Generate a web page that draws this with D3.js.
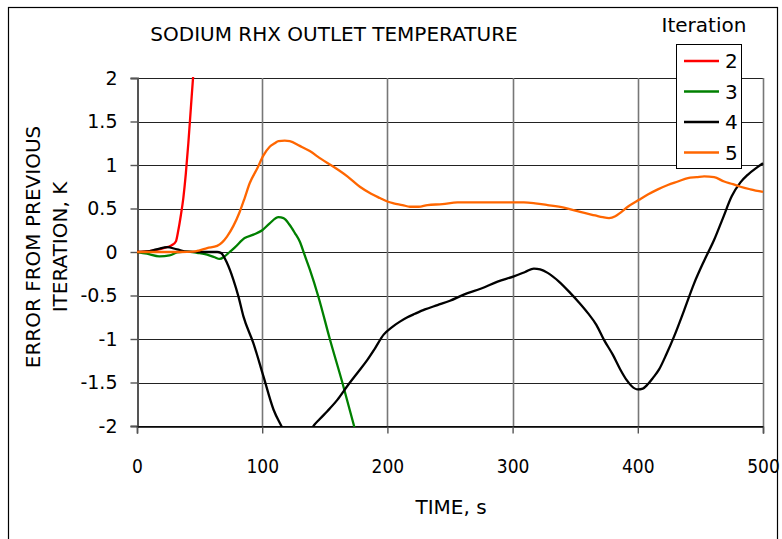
<!DOCTYPE html>
<html>
<head>
<meta charset="utf-8">
<script src="https://cdn.jsdelivr.net/npm/d3@7"></script>
<style>
  html, body { margin: 0; padding: 0; background: #fff; }
  svg { display: block; }
  text { font-family: "DejaVu Sans", Verdana, sans-serif; fill: #000; }
</style>
</head>
<body>
<svg id="chart" width="782" height="539"></svg>
<script>
// Error from previous iteration (K) vs time (s), per iteration
const time2 = [0, 10, 20, 25, 28, 31, 33, 35, 37, 39, 41, 43, 45, 47];
const err2  = [0, 0.01, 0.04, 0.06, 0.08, 0.12, 0.25, 0.42, 0.62, 0.9, 1.25, 1.65, 2.05, 2.4];

const time3 = [0, 8, 18, 26, 32, 40, 48, 56, 62, 66, 70, 74, 78, 86, 93, 100, 106, 113, 117, 122, 126, 130, 134, 138, 145, 154, 164, 173, 177];
const err3  = [0, -0.02, -0.05, -0.04, -0.005, 0.005, -0.01, -0.03, -0.06, -0.08, -0.05, 0.0, 0.05, 0.16, 0.2, 0.25, 0.33, 0.4, 0.39, 0.31, 0.22, 0.12, -0.04, -0.2, -0.52, -1.0, -1.5, -1.98, -2.2];

const time4 = [0, 10, 18, 24, 32, 40, 53, 64, 67, 72, 77, 81, 85, 93, 101, 109, 116, 122, 128, 134, 140, 146, 152, 160, 168, 176, 184, 190, 197, 204, 210, 216, 222, 230, 240, 250, 261, 275, 288, 301, 310, 317, 322, 328, 337, 346, 353, 360, 367, 373, 380, 386, 391, 395, 400, 404, 408, 412, 417, 423, 429, 437, 445, 453, 461, 468, 475, 482, 488, 495, 500];
const err4  = [0, 0.01, 0.04, 0.055, 0.03, 0.005, 0, 0, -0.01, -0.13, -0.32, -0.51, -0.74, -1.05, -1.43, -1.81, -2.02, -2.2, -2.28, -2.22, -2.02, -1.92, -1.83, -1.7, -1.54, -1.39, -1.24, -1.11, -0.95, -0.86, -0.8, -0.75, -0.71, -0.66, -0.61, -0.56, -0.49, -0.42, -0.34, -0.28, -0.23, -0.19, -0.2, -0.24, -0.34, -0.47, -0.58, -0.7, -0.84, -1.01, -1.18, -1.35, -1.47, -1.54, -1.58, -1.57, -1.52, -1.45, -1.35, -1.17, -0.97, -0.67, -0.36, -0.1, 0.14, 0.39, 0.64, 0.8, 0.89, 0.97, 1.02];

const time5 = [0, 20, 35, 45, 50, 56, 64, 68, 72, 77, 82, 86, 90, 96, 101, 106, 110, 113, 118, 122, 130, 138, 147, 157, 168, 178, 187, 194, 200, 205, 212, 218, 225, 232, 244, 256, 274, 292, 309, 318, 328, 341, 354, 366, 372, 377, 382, 386, 392, 401, 408, 416, 424, 432, 440, 447, 453, 461, 469, 476, 482, 490, 500];
const err5  = [0, 0, 0, 0.005, 0.02, 0.045, 0.07, 0.11, 0.18, 0.3, 0.46, 0.62, 0.79, 0.96, 1.11, 1.21, 1.25, 1.275, 1.28, 1.275, 1.22, 1.16, 1.07, 0.98, 0.87, 0.75, 0.67, 0.62, 0.58, 0.56, 0.54, 0.52, 0.52, 0.54, 0.55, 0.57, 0.57, 0.57, 0.57, 0.56, 0.54, 0.51, 0.46, 0.42, 0.4, 0.39, 0.41, 0.45, 0.52, 0.6, 0.66, 0.72, 0.77, 0.81, 0.85, 0.86, 0.87, 0.86, 0.81, 0.78, 0.75, 0.72, 0.69];

const iterations = ["2", "3", "4", "5"];
const colors = ["#ff0000", "#008000", "#000000", "#ff6600"];
const xTicks = [0, 100, 200, 300, 400, 500];
const yTicks = [2, 1.5, 1, 0.5, 0, -0.5, -1, -1.5, -2];

const seriesList = [
  { name: iterations[0], color: colors[0], t: time2, v: err2 },
  { name: iterations[1], color: colors[1], t: time3, v: err3 },
  { name: iterations[2], color: colors[2], t: time4, v: err4 },
  { name: iterations[3], color: colors[3], t: time5, v: err5 }
];

const svg = d3.select("#chart");
const plot = { left: 137, right: 763, top: 78, bottom: 426 };

const x = d3.scaleLinear().domain([0, 500]).range([plot.left, plot.right]);
const y = d3.scaleLinear().domain([-2, 2]).range([plot.bottom, plot.top]);

// outer frame
svg.append("rect")
  .attr("x", 8.5).attr("y", 7.5)
  .attr("width", 769).attr("height", 540)
  .attr("fill", "none").attr("stroke", "#000").attr("stroke-width", 1.2);

// title
svg.append("text")
  .attr("x", 334).attr("y", 41)
  .attr("text-anchor", "middle")
  .style("font-size", "20px")
  .text("SODIUM RHX OUTLET TEMPERATURE");

// grid: horizontal
svg.append("g")
  .selectAll("line")
  .data(yTicks)
  .join("line")
  .attr("x1", plot.left).attr("x2", plot.right)
  .attr("y1", d => Math.round(y(d)) + 0.5).attr("y2", d => Math.round(y(d)) + 0.5)
  .attr("stroke", "#222").attr("stroke-width", 1.2);

// grid: vertical
svg.append("g")
  .selectAll("line")
  .data(xTicks.slice(1))
  .join("line")
  .attr("x1", d => Math.round(x(d)) + 0.5).attr("x2", d => Math.round(x(d)) + 0.5)
  .attr("y1", plot.top).attr("y2", plot.bottom)
  .attr("stroke", "#777").attr("stroke-width", 1.6);

// y axis
const yAxis = svg.append("g")
  .attr("transform", `translate(${plot.left + 0.5},0)`)
  .call(d3.axisLeft(y).tickValues(yTicks).tickSize(7).tickPadding(13).tickFormat(d3.format("")));
yAxis.select(".domain").attr("stroke", "#555").attr("stroke-width", 2);
yAxis.selectAll(".tick line").attr("stroke", "#555").attr("stroke-width", 1.4);
yAxis.selectAll(".tick text")
  .style("font-family", "\"DejaVu Sans\", sans-serif")
  .style("font-size", "19px")
  .text(d => d3.format("")(d).replace("−", "-"));

// x axis
const xAxis = svg.append("g")
  .attr("transform", `translate(0,${plot.bottom + 0.5})`)
  .call(d3.axisBottom(x).tickValues(xTicks).tickSize(7).tickFormat(d3.format("")));
xAxis.select(".domain").attr("stroke", "#000").attr("stroke-width", 1.4);
xAxis.selectAll(".tick line").attr("stroke", "#555").attr("stroke-width", 1.4);
xAxis.selectAll(".tick text")
  .attr("y", 46).attr("dy", 0)
  .style("font-family", "\"DejaVu Sans Condensed\", \"DejaVu Sans\", sans-serif")
  .style("font-size", "19px");

// axis titles
svg.append("text")
  .attr("x", 451).attr("y", 514)
  .attr("text-anchor", "middle")
  .style("font-size", "20px")
  .text("TIME, s");

svg.append("text")
  .attr("transform", "translate(40,247) rotate(-90)")
  .attr("text-anchor", "middle")
  .style("font-size", "20px")
  .text("ERROR FROM PREVIOUS");
svg.append("text")
  .attr("transform", "translate(67,247) rotate(-90)")
  .attr("text-anchor", "middle")
  .style("font-size", "20px")
  .text("ITERATION, K");

// clip the curves to the plot area
svg.append("defs").append("clipPath").attr("id", "plotClip")
  .append("rect")
  .attr("x", plot.left).attr("y", plot.top - 1)
  .attr("width", plot.right - plot.left + 1).attr("height", plot.bottom - plot.top + 2);

const line = d3.line()
  .x(d => x(d[0]))
  .y(d => y(d[1]))
  .curve(d3.curveMonotoneX);

svg.append("g")
  .attr("clip-path", "url(#plotClip)")
  .selectAll("path")
  .data(seriesList)
  .join("path")
  .attr("d", s => line(s.t.map((t, i) => [t, s.v[i]])))
  .attr("fill", "none")
  .attr("stroke", s => s.color)
  .attr("stroke-width", 2.3)
  .attr("stroke-linejoin", "round");

// legend
svg.append("text")
  .attr("x", 704).attr("y", 32)
  .attr("text-anchor", "middle")
  .style("font-size", "20px")
  .text("Iteration");

const legend = svg.append("g");
legend.append("rect")
  .attr("x", 676.5).attr("y", 44.5)
  .attr("width", 65).attr("height", 124)
  .attr("fill", "#fff").attr("stroke", "#000").attr("stroke-width", 1);

const item = legend.selectAll("g.item")
  .data(seriesList)
  .join("g")
  .attr("class", "item")
  .attr("transform", (d, i) => `translate(0,${61 + i * 30.5})`);
item.append("line")
  .attr("x1", 684).attr("x2", 719)
  .attr("stroke", d => d.color).attr("stroke-width", 2.3);
item.append("text")
  .attr("x", 725).attr("y", 7)
  .style("font-size", "20px")
  .text(d => d.name);
</script>
</body>
</html>
